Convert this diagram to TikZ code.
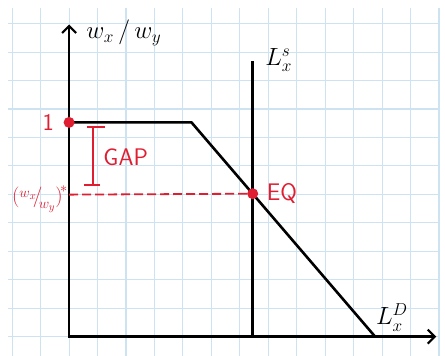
\documentclass[tikz,border=0pt]{standalone}
\usepackage{tikz}
\usetikzlibrary{arrows.meta,positioning}
\definecolor{gridBlue}{RGB}{206,227,242}
\definecolor{penRed}{RGB}{224,30,50}

\begin{document}
\begin{tikzpicture}[
  x=30.6pt, y=30.6pt,
  axis/.style={line width=2.6pt, {Straight Barb[length=7pt,width=14pt,line width=2.2pt]}-{Straight Barb[length=7pt,width=14pt,line width=2.2pt]}},
  curve/.style={line width=2.6pt},
  redline/.style={penRed, line width=1.8pt},
  dot/.style={circle, fill=penRed, inner sep=0pt, minimum size=11pt},
  lbl/.style={font=\fontsize{24}{26}\selectfont},
  redlbl/.style={text=penRed, font=\fontsize{24}{26}\selectfont\sffamily}
]
  % page and grid paper
  \useasboundingbox (-2.258,-0.631) rectangle (12.284,11.0);
  \fill[white] (-2.258,-0.631) rectangle (12.284,11.0);
  \draw[gridBlue, line width=1.1pt] (-1.99,-0.631) grid (12.12,10.74);

  % points
  \coordinate (O) at (0,0);
  \coordinate (ytop) at (0,10.2);
  \coordinate (xend) at (12.0,0);
  \coordinate (one) at (0,7);
  \coordinate (kink) at (4,7);
  \coordinate (dend) at (10,0);
  \coordinate (lstop) at (6,9);
  \coordinate (lsbot) at (6,0);
  \coordinate (wstar) at (0,4.64);
  \coordinate (gaptop) at (0.78,6.85);
  \coordinate (gapbot) at (0.78,4.96);

  % axes, demand and supply
  \draw[axis] (ytop) -- (O) -- (xend);
  \draw[curve] (one) -- (kink) -- (dend);
  \draw[curve] (lstop) -- (lsbot);

  % red notes
  \draw[redline, dash pattern=on 9pt off 4pt] (wstar) -- (6,4.67);
  \draw[redline] (gaptop) -- (gapbot);
  \draw[redline] ([xshift=-6pt]gaptop) -- ([xshift=12pt]gaptop);
  \draw[redline] ([xshift=-9pt]gapbot) -- ([xshift=7pt]gapbot);
  \node[dot] (onedot) at (one) {};
  \node[dot] (eqdot) at (6,4.67) {};
  \node[redlbl, left=6pt of onedot] (onelbl) {1};
  \node[redlbl, right=5pt of eqdot] (eqlbl) {EQ};
  \node[redlbl] (gaplbl) at (1.85,5.85) {GAP};
  \node[text=penRed, font=\fontsize{22}{24}\selectfont, inner sep=1pt, left=0pt of wstar, yshift=-5pt] (wstarlbl)
    {$\Bigl(\raisebox{5pt}{$\scriptstyle w_x$}\!\big/\!\raisebox{-6pt}{$\scriptstyle w_y$}\Bigr)^{\!*}$};

  % labels
  \node[lbl, anchor=west] (ylbl) at (0.45,9.92) {$w_x\,/\,w_y$};
  \node[lbl, anchor=west] (lslbl) at (6.3,9.04) {$L^{s}_{x}$};
  \node[lbl] (ldlbl) at (10.55,0.62) {$L^{D}_{x}$};
\end{tikzpicture}
\end{document}
